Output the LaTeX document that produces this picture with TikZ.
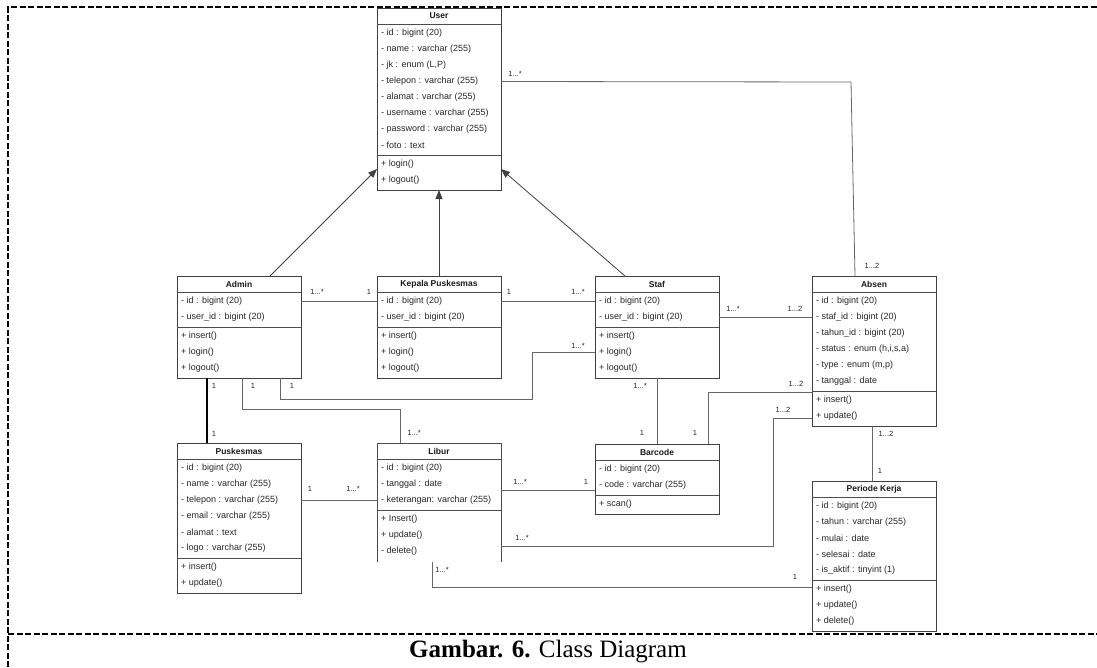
\documentclass[tikz,border=0pt]{standalone}
\usepackage{fontspec}
\setmainfont{Liberation Serif}
\newfontfamily\diagfont{Liberation Sans}
\usetikzlibrary{arrows.meta,calc}

\tikzset{
  classbox/.style={draw=black!75, line width=0.8pt, anchor=north west, minimum width=124pt, inner sep=0pt, outer sep=0pt},
  openbox/.style={draw=none, anchor=north west, minimum width=124pt, inner sep=0pt, outer sep=0pt},
  classsep/.style={draw=black!70, line width=0.8pt},
  ctitle/.style={font=\diagfont\bfseries\fontsize{8.5}{10}\selectfont, inner sep=0pt, text=black!90},
  cmember/.style={font=\diagfont\fontsize{9}{10}\selectfont, anchor=west, inner sep=0pt, text=black!85},
  assoc/.style={draw=black!60, line width=0.8pt},
  assocdark/.style={draw=black, line width=1.1pt},
  gen/.style={draw=black!75, line width=0.8pt, -{Triangle[width=7pt,length=9pt]}},
  mult/.style={font=\diagfont\fontsize{7.5}{9}\selectfont, inner sep=0pt, text=black!85},
  framedash/.style={line width=1.3pt, dash pattern=on 6pt off 2.5pt},
}

% \umlclass[box style]{name}{x}{y}{#attributes}{#methods}{title}{attributes}{methods}
\newcommand\umlclass[9][classbox]{%
  \pgfmathsetmacro\ysepa{#4+16}%
  \pgfmathsetmacro\ysepb{#4+16+#5*16+3}%
  \pgfmathsetmacro\ybot{\ysepb+#6*16+3}%
  \pgfmathsetmacro\boxh{\ybot-#4}%
  \node[#1, minimum height=\boxh pt] (#2) at (#3,#4) {};
  \node[ctitle] (#2-title) at ($(#2.north)+(0,8)$) {#7};
  \draw[classsep] (#3,\ysepa) -- ++(124,0);
  \draw[classsep] (#3,\ysepb) -- ++(124,0);
  \foreach \m [count=\i] in {#8}
    \node[cmember] (#2-a\i) at (#3+4,\ysepa+9.5+16*\i-16) {\m};
  \foreach \m [count=\i] in {#9}
    \node[cmember] (#2-m\i) at (#3+4,\ysepb+9.5+16*\i-16) {\m};
}

\begin{document}
\begin{tikzpicture}[x=1pt,y=-1pt]
\useasboundingbox (0,0) rectangle (1097,667);

% frame and caption
\draw[framedash] (8,667) -- (8,7) -- (1097,7);
\draw[framedash] (8,634) -- (1097,634);
\node[font=\fontsize{25}{30}\selectfont, inner sep=0pt] (caption) at (548,652)
  {\textbf{Gambar. 6.} Class Diagram};

% classes
\umlclass{user}{377}{8}{8}{2}{User}
  {- id : bigint (20), - name : varchar (255), {- jk : enum (L,P)}, - telepon : varchar (255),
   - alamat : varchar (255), - username : varchar (255), - password : varchar (255), - foto : text}
  {+ login(), + logout()}

\umlclass{admin}{177}{276}{2}{3}{Admin}
  {- id : bigint (20), - user\_id : bigint (20)}
  {+ insert(), + login(), + logout()}

\umlclass{kepala}{377}{276}{2}{3}{Kepala Puskesmas}
  {- id : bigint (20), - user\_id : bigint (20)}
  {+ insert(), + login(), + logout()}

\umlclass{staf}{595}{276}{2}{3}{Staf}
  {- id : bigint (20), - user\_id : bigint (20)}
  {+ insert(), + login(), + logout()}

\umlclass{absen}{812}{276}{6}{2}{Absen}
  {- id : bigint (20), - staf\_id : bigint (20), - tahun\_id : bigint (20),
   {- status : enum (h,i,s,a)}, {- type : enum (m,p)}, - tanggal : date}
  {+ insert(), + update()}

\umlclass{puskesmas}{177}{443}{6}{2}{Puskesmas}
  {- id : bigint (20), - name : varchar (255), - telepon : varchar (255),
   - email : varchar (255), - alamat : text, - logo : varchar (255)}
  {+ insert(), + update()}

\umlclass[openbox]{libur}{377}{443}{3}{3}{Libur}
  {- id : bigint (20), - tanggal : date, - keterangan: varchar (255)}
  {+ Insert(), + update(), - delete()}
\draw[classsep] ($(libur.south west)+(0,1)$) -- (libur.north west) -- (libur.north east) -- ($(libur.south east)+(0,1)$);

\umlclass{barcode}{595}{444}{2}{1}{Barcode}
  {- id : bigint (20), - code : varchar (255)}
  {+ scan()}

\umlclass{periode}{812}{481}{5}{3}{Periode Kerja}
  {- id : bigint (20), - tahun : varchar (255), - mulai : date, - selesai : date,
   - is\_aktif : tinyint (1)}
  {+ insert(), + update(), + delete()}

% generalisations
\draw[gen] ($(admin.north west)+(93,0)$) -- ($(user.south west)+(0,-21)$);
\draw[gen] (kepala.north) -- (user.south);
\draw[gen] ($(staf.north west)+(30,0)$) -- ($(user.south east)+(0,-21)$);

% associations
\draw[assoc] (user.east |- user-a4) -- (851,82) -- ($(absen.north west)+(43,0)$);
\draw[assoc] (admin.east |- admin-a1) -- (kepala.west |- admin-a1);
\draw[assoc] (kepala.east |- kepala-a1) -- (staf.west |- kepala-a1);
\draw[assoc] (staf.east |- staf-a2) -- (absen.west |- staf-a2);
\draw[assoc] ($(admin.south west)+(103,0)$) |- (532,399) |- (staf.west |- staf-m2);
\draw[assocdark] ($(admin.south west)+(30,0)$) -- ($(puskesmas.north west)+(30,0)$);
\draw[assoc] ($(admin.south west)+(65,0)$) |- (400,409) -- ($(libur.north west)+(23,0)$);
\draw[assoc] (puskesmas.east |- puskesmas-a3) -- (libur.west |- puskesmas-a3);
\draw[assoc] (staf.south) -- (barcode.north);
\draw[assoc] ($(absen.south west)+(0,-34)$) -| ($(barcode.north west)+(113,0)$);
\draw[assoc] ($(libur.north east)+(0,47)$) -- ($(barcode.north west)+(0,46)$);
\draw[assoc] ($(libur.north east)+(0,103)$) -| (773,418) -- ($(absen.south west)+(0,-8)$);
\draw[assoc] ($(absen.south west)+(60,0)$) -- ($(periode.north west)+(60,0)$);
\draw[assoc] ($(libur.south west)+(55,1)$) |- ($(periode.north west)+(0,106)$);

% multiplicities
\node[mult] (m1)  at (515,74)  {1...*};
\node[mult] (m2)  at (872,266) {1...2};
\node[mult] (m3)  at (317,292) {1...*};
\node[mult] (m4)  at (369,292) {1};
\node[mult] (m5)  at (509,292) {1};
\node[mult] (m6)  at (578,292) {1...*};
\node[mult] (m7)  at (733,309) {1...*};
\node[mult] (m8)  at (795,309) {1...2};
\node[mult] (m9)  at (214,386) {1};
\node[mult] (m10) at (253,386) {1};
\node[mult] (m11) at (292,386) {1};
\node[mult] (m12) at (578,346) {1...*};
\node[mult] (m13) at (214,434) {1};
\node[mult] (m14) at (414,433) {1...*};
\node[mult] (m15) at (640,386) {1...*};
\node[mult] (m16) at (642,433) {1};
\node[mult] (m17) at (796,384) {1...2};
\node[mult] (m18) at (695,433) {1};
\node[mult] (m19) at (310,489) {1};
\node[mult] (m20) at (353,489) {1...*};
\node[mult] (m21) at (520,482) {1...*};
\node[mult] (m22) at (586,482) {1};
\node[mult] (m23) at (522,538) {1...*};
\node[mult] (m24) at (783,410) {1...2};
\node[mult] (m25) at (886,434) {1...2};
\node[mult] (m26) at (880,471) {1};
\node[mult] (m27) at (442,570) {1...*};
\node[mult] (m28) at (795,577) {1};
\end{tikzpicture}
\end{document}
